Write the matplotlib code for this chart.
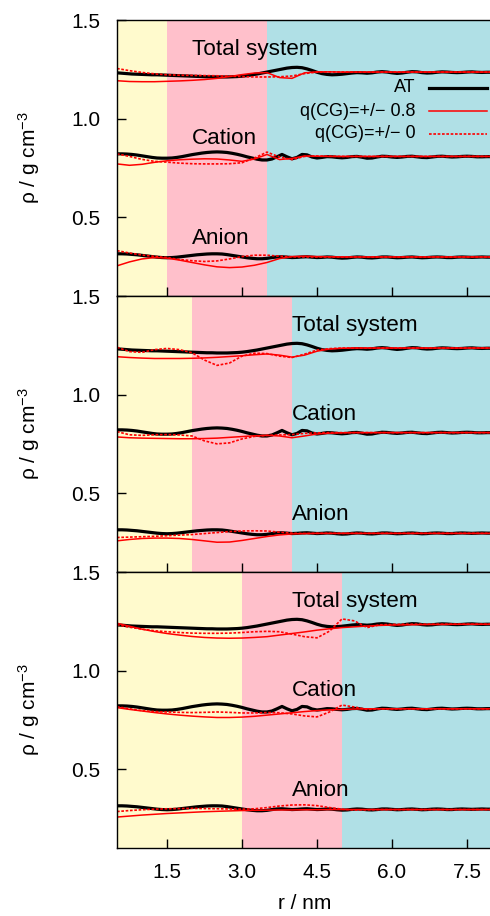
import numpy as np
import matplotlib
matplotlib.use('Agg')
import matplotlib.pyplot as plt

plt.rcParams['font.family'] = ['Liberation Sans', 'DejaVu Sans']
plt.rcParams['mathtext.fontset'] = 'custom'
plt.rcParams['mathtext.rm'] = 'Liberation Sans'
plt.rcParams['mathtext.it'] = 'Liberation Sans:italic'

# radial grids (nm)
r_at = np.linspace(0.5, 8.0, 76)   # step 0.1
r_cg = np.linspace(0.5, 8.0, 31)   # step 0.25

# all-atom reference (same in every panel)
at_total = [1.232, 1.230, 1.228, 1.226, 1.225, 1.224, 1.223, 1.222, 1.222, 1.221,
            1.220, 1.219, 1.218, 1.217, 1.216, 1.215, 1.214, 1.213, 1.212, 1.212,
            1.211, 1.211, 1.211, 1.212, 1.213, 1.215, 1.218, 1.222, 1.226, 1.231,
            1.236, 1.241, 1.246, 1.251, 1.256, 1.259, 1.260, 1.258, 1.252, 1.244,
            1.235, 1.228, 1.224, 1.222, 1.223, 1.225, 1.228, 1.231, 1.233, 1.232,
            1.230, 1.232, 1.236, 1.238, 1.236, 1.232, 1.229, 1.231, 1.235, 1.238,
            1.237, 1.233, 1.231, 1.232, 1.235, 1.237, 1.236, 1.234, 1.233, 1.234,
            1.236, 1.237, 1.235, 1.234, 1.235, 1.235]
at_cation = [0.821, 0.821, 0.820, 0.818, 0.815, 0.811, 0.807, 0.803, 0.800, 0.799,
             0.799, 0.800, 0.803, 0.807, 0.812, 0.817, 0.821, 0.825, 0.828, 0.830,
             0.831, 0.830, 0.828, 0.824, 0.819, 0.813, 0.806, 0.800, 0.794, 0.790,
             0.790, 0.795, 0.806, 0.818, 0.806, 0.796, 0.803, 0.818, 0.816, 0.805,
             0.800, 0.803, 0.807, 0.806, 0.803, 0.801, 0.803, 0.807, 0.808, 0.804,
             0.799, 0.800, 0.805, 0.809, 0.808, 0.805, 0.803, 0.805, 0.808, 0.809,
             0.806, 0.803, 0.802, 0.805, 0.808, 0.809, 0.807, 0.805, 0.806, 0.808,
             0.809, 0.808, 0.806, 0.806, 0.807, 0.807]
at_anion = [0.314, 0.314, 0.313, 0.311, 0.309, 0.306, 0.303, 0.300, 0.297, 0.295,
            0.294, 0.295, 0.297, 0.300, 0.303, 0.306, 0.309, 0.311, 0.313, 0.314,
            0.314, 0.313, 0.310, 0.306, 0.302, 0.298, 0.294, 0.291, 0.289, 0.289,
            0.291, 0.295, 0.298, 0.299, 0.297, 0.295, 0.296, 0.298, 0.299, 0.297,
            0.295, 0.296, 0.298, 0.297, 0.294, 0.292, 0.293, 0.296, 0.298, 0.297,
            0.294, 0.293, 0.295, 0.298, 0.298, 0.296, 0.294, 0.295, 0.297, 0.298,
            0.296, 0.294, 0.295, 0.297, 0.298, 0.297, 0.295, 0.295, 0.297, 0.298,
            0.297, 0.296, 0.297, 0.298, 0.297, 0.297]

# panel 1: AT up to 1.5 nm, hybrid up to 3.5 nm
tot_q08_p1 = [1.192, 1.188, 1.187, 1.187, 1.189, 1.191, 1.194, 1.198, 1.204, 1.213,
              1.223, 1.231, 1.233, 1.208, 1.204, 1.232, 1.237, 1.237, 1.236, 1.236,
              1.236, 1.236, 1.236, 1.236, 1.236, 1.236, 1.236, 1.236, 1.236, 1.236, 1.236]
tot_q0_p1 = [1.254, 1.243, 1.234, 1.227, 1.222, 1.220, 1.219, 1.218, 1.217, 1.215,
             1.213, 1.211, 1.211, 1.212, 1.216, 1.228, 1.236, 1.237, 1.236, 1.236,
             1.236, 1.236, 1.236, 1.236, 1.236, 1.236, 1.236, 1.236, 1.236, 1.236, 1.236]
cat_q08_p1 = [0.770, 0.763, 0.768, 0.778, 0.786, 0.791, 0.794, 0.796, 0.795, 0.790,
              0.783, 0.795, 0.818, 0.792, 0.798, 0.810, 0.809, 0.808, 0.808, 0.808,
              0.808, 0.808, 0.808, 0.808, 0.808, 0.808, 0.808, 0.808, 0.808, 0.808, 0.808]
cat_q0_p1 = [0.821, 0.808, 0.793, 0.783, 0.779, 0.774, 0.771, 0.770, 0.770, 0.771,
             0.776, 0.800, 0.830, 0.805, 0.792, 0.808, 0.810, 0.809, 0.808, 0.808,
             0.808, 0.808, 0.808, 0.808, 0.808, 0.808, 0.808, 0.808, 0.808, 0.808, 0.808]
an_q08_p1 = [0.253, 0.273, 0.288, 0.295, 0.292, 0.282, 0.270, 0.258, 0.248, 0.244,
             0.247, 0.256, 0.270, 0.290, 0.300, 0.302, 0.300, 0.299, 0.298, 0.298,
             0.298, 0.298, 0.298, 0.298, 0.298, 0.298, 0.298, 0.298, 0.298, 0.298, 0.298]
an_q0_p1 = [0.330, 0.318, 0.308, 0.301, 0.295, 0.285, 0.279, 0.275, 0.278, 0.288,
            0.300, 0.307, 0.307, 0.302, 0.299, 0.298, 0.298, 0.298, 0.298, 0.298,
            0.298, 0.298, 0.298, 0.298, 0.298, 0.298, 0.298, 0.298, 0.298, 0.298, 0.298]

# panel 2: AT up to 2.0 nm, hybrid up to 4.0 nm
tot_q08_p2 = [1.192, 1.188, 1.185, 1.183, 1.183, 1.183, 1.184, 1.186, 1.189, 1.193,
              1.197, 1.202, 1.206, 1.200, 1.190, 1.200, 1.220, 1.231, 1.235, 1.236,
              1.236, 1.236, 1.236, 1.236, 1.236, 1.236, 1.236, 1.236, 1.236, 1.236, 1.236]
tot_q0_p2 = [1.240, 1.218, 1.214, 1.228, 1.234, 1.228, 1.212, 1.175, 1.148, 1.160,
             1.195, 1.210, 1.208, 1.195, 1.188, 1.205, 1.226, 1.233, 1.236, 1.236,
             1.236, 1.236, 1.236, 1.236, 1.236, 1.236, 1.236, 1.236, 1.236, 1.236, 1.236]
cat_q08_p2 = [0.785, 0.781, 0.779, 0.778, 0.777, 0.776, 0.776, 0.777, 0.779, 0.783,
              0.787, 0.791, 0.793, 0.790, 0.781, 0.790, 0.800, 0.804, 0.806, 0.807,
              0.807, 0.807, 0.807, 0.807, 0.807, 0.807, 0.807, 0.807, 0.807, 0.807, 0.807]
cat_q0_p2 = [0.812, 0.796, 0.793, 0.796, 0.797, 0.795, 0.790, 0.765, 0.750, 0.755,
             0.775, 0.788, 0.793, 0.795, 0.797, 0.803, 0.806, 0.807, 0.807, 0.807,
             0.807, 0.807, 0.807, 0.807, 0.807, 0.807, 0.807, 0.807, 0.807, 0.807, 0.807]
an_q08_p2 = [0.258, 0.265, 0.270, 0.272, 0.272, 0.270, 0.265, 0.258, 0.251, 0.252,
             0.260, 0.270, 0.280, 0.288, 0.293, 0.295, 0.296, 0.296, 0.296, 0.296,
             0.296, 0.296, 0.296, 0.296, 0.296, 0.296, 0.296, 0.296, 0.296, 0.296, 0.296]
an_q0_p2 = [0.275, 0.277, 0.279, 0.281, 0.284, 0.287, 0.290, 0.295, 0.300, 0.305,
            0.308, 0.309, 0.308, 0.302, 0.297, 0.295, 0.296, 0.296, 0.296, 0.296,
            0.296, 0.296, 0.296, 0.296, 0.296, 0.296, 0.296, 0.296, 0.296, 0.296, 0.296]

# panel 3: AT up to 3.0 nm, hybrid up to 5.0 nm
tot_q08_p3 = [1.240, 1.225, 1.210, 1.198, 1.188, 1.180, 1.173, 1.168, 1.165, 1.164,
              1.165, 1.168, 1.172, 1.180, 1.188, 1.196, 1.205, 1.212, 1.218, 1.222,
              1.226, 1.229, 1.231, 1.232, 1.233, 1.234, 1.234, 1.235, 1.235, 1.235, 1.235]
tot_q0_p3 = [1.232, 1.220, 1.210, 1.202, 1.197, 1.193, 1.190, 1.189, 1.189, 1.190,
             1.193, 1.197, 1.199, 1.197, 1.185, 1.172, 1.166, 1.200, 1.262, 1.252,
             1.218, 1.232, 1.234, 1.235, 1.235, 1.235, 1.235, 1.235, 1.235, 1.235, 1.235]
cat_q08_p3 = [0.812, 0.803, 0.795, 0.787, 0.780, 0.774, 0.769, 0.765, 0.762, 0.762,
              0.764, 0.768, 0.774, 0.780, 0.786, 0.792, 0.797, 0.801, 0.803, 0.805,
              0.806, 0.806, 0.806, 0.806, 0.806, 0.806, 0.806, 0.806, 0.806, 0.806, 0.806]
cat_q0_p3 = [0.817, 0.806, 0.797, 0.792, 0.790, 0.788, 0.787, 0.788, 0.790, 0.788,
             0.785, 0.785, 0.787, 0.786, 0.780, 0.770, 0.765, 0.790, 0.825, 0.815,
             0.803, 0.806, 0.806, 0.806, 0.806, 0.806, 0.806, 0.806, 0.806, 0.806, 0.806]
an_q08_p3 = [0.257, 0.262, 0.267, 0.271, 0.275, 0.278, 0.281, 0.284, 0.286, 0.288,
             0.290, 0.291, 0.292, 0.293, 0.293, 0.294, 0.294, 0.295, 0.295, 0.295,
             0.295, 0.295, 0.295, 0.295, 0.295, 0.295, 0.295, 0.295, 0.295, 0.295, 0.295]
an_q0_p3 = [0.285, 0.290, 0.294, 0.297, 0.299, 0.300, 0.301, 0.300, 0.299, 0.298,
            0.297, 0.299, 0.305, 0.313, 0.318, 0.319, 0.315, 0.305, 0.297, 0.293,
            0.294, 0.295, 0.295, 0.295, 0.295, 0.295, 0.295, 0.295, 0.295, 0.295, 0.295]

at_end = [1.5, 2.0, 3.0]
hy_end = [3.5, 4.0, 5.0]
label_x = [2.0, 4.0, 4.0]
group_names = ['Total system', 'Cation', 'Anion']
group_y = [1.35, 0.90, 0.39]

q08 = [[tot_q08_p1, cat_q08_p1, an_q08_p1],
       [tot_q08_p2, cat_q08_p2, an_q08_p2],
       [tot_q08_p3, cat_q08_p3, an_q08_p3]]
q0 = [[tot_q0_p1, cat_q0_p1, an_q0_p1],
      [tot_q0_p2, cat_q0_p2, an_q0_p2],
      [tot_q0_p3, cat_q0_p3, an_q0_p3]]
at_curves = [at_total, at_cation, at_anion]

legend_labels = ['AT', 'q(CG)=+/\u2212 0.8', 'q(CG)=+/\u2212 0']

fig = plt.figure(figsize=(4.9, 9.16), dpi=100)

left, width = 117 / 490, 375 / 490
height = 276 / 916
bottoms = [620 / 916, 344 / 916, 68 / 916]

yellow = '#fffacd'
pink = '#ffc0cb'
cyan = '#b0e0e6'
dash = (0, (1.6, 1.0))

for i in range(3):
    ax = fig.add_axes([left, bottoms[i], width, height])
    ax.set_xlim(0.5, 8.0)
    ax.set_ylim(0.1, 1.5)

    # AT / hybrid / CG regions
    ax.axvspan(0.5, at_end[i], color=yellow, lw=0, zorder=0)
    ax.axvspan(at_end[i], hy_end[i], color=pink, lw=0, zorder=0)
    ax.axvspan(hy_end[i], 8.0, color=cyan, lw=0, zorder=0)

    for g in range(3):
        ax.plot(r_at, at_curves[g], color='black', lw=2.3, zorder=2)
        ax.plot(r_cg, q08[i][g], color='red', lw=1.1, zorder=3)
        ax.plot(r_cg, q0[i][g], color='red', lw=1.2, ls=dash, zorder=4)
        ax.text(label_x[i], group_y[g], group_names[g], fontsize=16.2,
                ha='left', va='center', zorder=5)

    ax.set_yticks([0.5, 1.0, 1.5])
    ax.set_yticklabels(['0.5', '1.0', '1.5'])
    ax.set_xticks([1.5, 3.0, 4.5, 6.0, 7.5])
    ax.tick_params(direction='in', length=6.5, width=1, top=False, right=False,
                   labelsize=15)
    ax.tick_params(axis='y', pad=12)
    ax.tick_params(axis='x', pad=11)
    for s in ax.spines.values():
        s.set_linewidth(1.0)
        s.set_zorder(6)

    ax.set_ylabel('\u03c1 / g cm$^{-3}$', fontsize=15)
    ax.yaxis.set_label_coords(-0.2, 0.5)

    if i < 2:
        ax.tick_params(axis='x', labelbottom=False)
    else:
        ax.set_xticklabels(['1.5', '3.0', '4.5', '6.0', '7.5'])
        ax.set_xlabel('r / nm', fontsize=15)
        ax.xaxis.set_label_coords(0.5, -0.165)
        ax.xaxis.label.set_va('top')

    # gnuplot-style key: right-aligned text, sample line to the right
    if i == 0:
        leg_y = [0.754, 0.670, 0.587]
        styles = [dict(color='black', lw=2.3),
                  dict(color='red', lw=1.1),
                  dict(color='red', lw=1.2, ls=dash)]
        for k in range(3):
            ax.text(0.795, leg_y[k], legend_labels[k], transform=ax.transAxes,
                    fontsize=13, ha='right', va='center', zorder=5)
            ax.plot([0.832, 0.987], [leg_y[k], leg_y[k]], transform=ax.transAxes,
                    clip_on=False, zorder=5, **styles[k])

fig.savefig('out.png', dpi=100)
